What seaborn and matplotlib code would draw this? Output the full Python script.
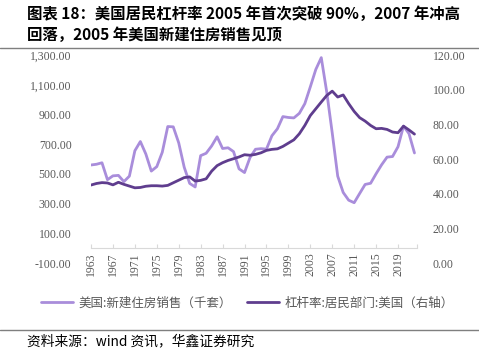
import matplotlib
matplotlib.use("Agg")
import matplotlib.pyplot as plt
import matplotlib.ticker as mticker
from matplotlib.lines import Line2D
import seaborn as sns
import pandas as pd

years = list(range(1963, 2023))

# 美国:新建住房销售(千套)
home_sales = [560, 565, 575, 461, 487, 490, 448, 485, 656, 718,
              634, 519, 549, 646, 819, 817, 709, 545, 436, 412,
              623, 639, 688, 750, 671, 676, 650, 534, 509, 610,
              666, 670, 667, 757, 804, 886, 880, 877, 908, 973,
              1086, 1203, 1283, 1051, 776, 485, 375, 323, 306, 368,
              429, 437, 501, 561, 613, 617, 683, 822, 771, 641]

# 杠杆率:居民部门:美国(%)
leverage = [45.0, 45.9, 46.4, 46.2, 45.1, 46.6, 45.4, 44.4, 43.4, 43.6,
            44.3, 44.6, 44.6, 44.4, 44.8, 46.3, 47.8, 49.3, 49.7, 47.3,
            47.7, 48.6, 53.0, 56.2, 57.9, 59.2, 60.2, 61.2, 62.5, 62.2,
            62.7, 63.6, 65.0, 65.6, 65.9, 67.3, 69.2, 71.1, 74.6, 79.4,
            85.1, 89.0, 92.9, 96.7, 99.2, 95.8, 97.0, 92.0, 87.5, 83.9,
            81.9, 79.4, 77.5, 77.7, 77.1, 75.6, 75.2, 79.0, 76.8, 74.4]

label_sales = "美国:新建住房销售（千套）"
label_lev = "杠杆率:居民部门:美国（右轴）"

df = pd.DataFrame({"year": years, "sales": home_sales, "lev": leverage})

sns.set_theme(style="white")
plt.rcParams["font.family"] = ["Noto Sans CJK SC", "DejaVu Sans"]

c_light = "#A98DDB"
c_dark = "#5F3D8E"
grey = "#595959"
num_font = "Liberation Serif"

fig = plt.figure(figsize=(4.79, 3.51), dpi=100)
ax = fig.add_axes([0.190, 0.2507, 0.681, 0.5923])
ax2 = ax.twinx()

sns.lineplot(data=df, x="year", y="sales", ax=ax, color=c_light, linewidth=2.0)
sns.lineplot(data=df, x="year", y="lev", ax=ax2, color=c_dark, linewidth=2.0)

ax.set_xlim(1963, 2022.5)
ax.set_ylim(-100, 1300)
ax2.set_ylim(0, 120)
ax.set_xlabel("")
ax.set_ylabel("")
ax2.set_ylabel("")

ax.set_yticks(range(-100, 1301, 200))
ax2.set_yticks(range(0, 121, 20))
ax.yaxis.set_major_formatter(mticker.FuncFormatter(lambda v, p: f"{v:,.2f}"))
ax2.yaxis.set_major_formatter(mticker.FuncFormatter(lambda v, p: f"{v:.2f}"))
ax.set_xticks(range(1963, 2020, 4))
ax.set_xticks([2022.5], minor=True)

for a in (ax, ax2):
    for s in ("top", "left", "right", "bottom"):
        a.spines[s].set_visible(False)
    a.grid(False)

ax.spines["bottom"].set_visible(True)
ax.spines["bottom"].set_position(("data", 0))
ax.spines["bottom"].set_color("#D9D9D9")
ax.spines["bottom"].set_linewidth(0.8)

ax.tick_params(axis="x", which="both", direction="in", length=3, width=0.8,
               color="#D9D9D9", labelrotation=90, pad=3, bottom=True)
ax.tick_params(axis="y", length=0, pad=14)
ax2.tick_params(axis="y", length=0, pad=11)

for lab in ax.get_xticklabels() + ax.get_yticklabels() + ax2.get_yticklabels():
    lab.set_fontfamily(num_font)
    lab.set_fontsize(8.5)
    lab.set_color(grey)

handles = [Line2D([], [], color=c_light, linewidth=2.0),
           Line2D([], [], color=c_dark, linewidth=2.0)]
fig.legend(handles, [label_sales, label_lev], loc="center",
           bbox_to_anchor=(0.516, 0.137), ncol=2, frameon=False,
           prop={"size": 9.0}, labelcolor=grey, handlelength=2.6,
           handletextpad=0.4, columnspacing=1.2)

fig.text(27 / 479, 1 - 14 / 351, "图表 18：美国居民杠杆率 2005 年首次突破 90%，2007 年冲高",
         fontsize=11.1, fontweight="bold", va="center", ha="left", color="black")
fig.text(27 / 479, 1 - 35 / 351, "回落，2005 年美国新建住房销售见顶",
         fontsize=11.1, fontweight="bold", va="center", ha="left", color="black")
fig.add_artist(Line2D([0, 1], [1 - 48 / 351, 1 - 48 / 351], transform=fig.transFigure,
                      color="#7F7F7F", linewidth=1.0))
fig.add_artist(Line2D([0, 1], [1 - 330 / 351, 1 - 330 / 351], transform=fig.transFigure,
                      color="#7F7F7F", linewidth=1.0))
fig.text(27 / 479, 1 - 341 / 351, "资料来源：wind 资讯，华鑫证券研究",
         fontsize=9.9, va="center", ha="left", color="black")

fig.savefig("out.png", dpi=100)
